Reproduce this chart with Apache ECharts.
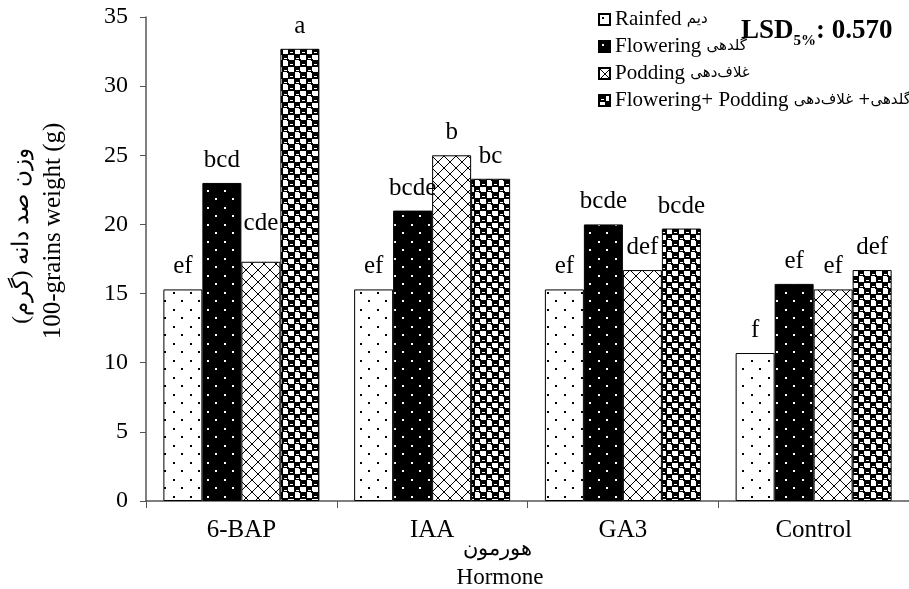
<!DOCTYPE html>
<html>
<head>
<meta charset="utf-8">
<script src="https://cdn.jsdelivr.net/npm/echarts@6/dist/echarts.min.js"></script>
<style>
html,body{margin:0;padding:0;background:#fff;}
#c{width:909px;height:589px;}
</style>
</head>
<body>
<div id="c"></div>
<script>
// ---- data ----
const categories = ['6-BAP', 'IAA', 'GA3', 'Control'];
const legendEn = ['Rainfed', 'Flowering', 'Podding', 'Flowering+ Podding'];
const legendFa = ['دیم', 'گلدهی', 'غلاف‌دهی', 'گلدهی+ غلاف‌دهی'];
const rainfed = [15.3, 15.3, 15.3, 10.7];
const flowering = [23.0, 21.0, 20.0, 15.7];
const podding = [17.3, 25.0, 16.7, 15.3];
const floweringPodding = [32.7, 23.3, 19.7, 16.7];
const rainfedLetters = ['ef', 'ef', 'ef', 'f'];
const floweringLetters = ['bcd', 'bcde', 'bcde', 'ef'];
const poddingLetters = ['cde', 'b', 'def', 'ef'];
const floweringPoddingLetters = ['a', 'bc', 'bcde', 'def'];
const yMin = 0, yMax = 35, yStep = 5;
const yAxisTitleFa = 'وزن صد دانه (گرم)\u200F';
const yAxisTitleEn = '100-grains weight (g)';
const xAxisTitleFa = 'هورمون';
const xAxisTitleEn = 'Hormone';
const lsdLabel = 'LSD', lsdSub = '5%', lsdValue = ': 0.570';

// ---- patterns ----
function tile(w, h, draw) {
  const c = document.createElement('canvas');
  c.width = w; c.height = h;
  const g = c.getContext('2d');
  draw(g, w, h);
  return c;
}
const patDots = tile(17, 17, (g, w, h) => {
  g.fillStyle = '#fff'; g.fillRect(0, 0, w, h);
  g.fillStyle = '#000'; g.fillRect(3, 3, 2, 2); g.fillRect(11, 11, 2, 2);
});
const patBlack = tile(17, 17, (g, w, h) => {
  g.fillStyle = '#000'; g.fillRect(0, 0, w, h);
  g.fillStyle = '#fff'; g.fillRect(3, 3, 2, 2); g.fillRect(11, 11, 2, 2);
});
const patCross = tile(12, 12, (g, w, h) => {
  g.fillStyle = '#fff'; g.fillRect(0, 0, w, h);
  g.fillStyle = '#000';
  for (let i = 0; i < 12; i++) { g.fillRect(i, i, 1, 1); g.fillRect(11 - i, i, 1, 1); }
});
const patCheck = tile(12, 12, (g, w, h) => {
  g.fillStyle = '#fff'; g.fillRect(0, 0, w, h);
  g.fillStyle = '#000';
  g.fillRect(0, 0, 7, 7); g.fillRect(6, 6, 6, 6); g.fillRect(0, 6, 1, 1);
  g.fillRect(11, 0, 1, 1); g.fillRect(0, 11, 1, 1);
  g.fillStyle = '#fff';
  g.fillRect(2, 4, 3, 1); g.fillRect(8, 10, 3, 1);
});
const patterns = [patDots, patBlack, patCross, patCheck];
const dataSets = [rainfed, flowering, podding, floweringPodding];
const letterSets = [rainfedLetters, floweringLetters, poddingLetters, floweringPoddingLetters];
const seriesNames = legendEn.map((e, i) => e + ' ' + legendFa[i]);
// extra upward shift (px) of a few hand-placed letter labels
const labelLift = { '2-0': 16 };

const serif = '"Liberation Serif", "Times New Roman", serif';

const series = seriesNames.map((name, i) => ({
  name: name,
  type: 'bar',
  data: dataSets[i].map((v, j) => {
    const lift = labelLift[i + '-' + j];
    return lift ? { value: v, label: { offset: [0, -lift] } } : v;
  }),
  barWidth: 39,
  barGap: '0%',
  itemStyle: { color: { image: patterns[i], repeat: 'repeat' }, borderColor: '#000', borderWidth: 1 },
  label: {
    show: true, position: 'top', distance: 10,
    fontFamily: serif, fontSize: 25, color: '#000',
    formatter: p => letterSets[i][p.dataIndex]
  },
  emphasis: { disabled: true }
}));

// measure LSD pieces for text layout
const mctx = document.createElement('canvas').getContext('2d');
mctx.font = 'bold 27px ' + serif;
const lsdW = mctx.measureText(lsdLabel).width;
mctx.font = 'bold 15px ' + serif;
const subW = mctx.measureText(lsdSub).width;
const lsdX = 741;

const chart = echarts.init(document.getElementById('c'), null, { renderer: 'canvas' });
chart.setOption({
  animation: false,
  backgroundColor: '#fff',
  grid: { left: 146, top: 17, width: 770, height: 484, containLabel: false },
  legend: {
    orient: 'vertical', left: 593, top: 4,
    itemWidth: 11, itemHeight: 11, itemGap: 6, itemTextGap: 3,
    icon: 'rect',
    data: seriesNames,
    formatter: name => {
      const i = seriesNames.indexOf(name);
      return '{en|' + legendEn[i] + '} {fa|' + legendFa[i] + '}';
    },
    textStyle: {
      fontFamily: serif, fontSize: 21, color: '#000',
      rich: {
        en: { fontFamily: serif, fontSize: 21, color: '#000' },
        fa: { fontFamily: '"DejaVu Sans", sans-serif', fontSize: 15, color: '#000' }
      }
    }
  },
  xAxis: {
    type: 'category', data: categories,
    axisLine: { lineStyle: { color: '#555', width: 1.5 } },
    axisTick: { show: true, length: 7, lineStyle: { color: '#555' } },
    axisLabel: { fontFamily: serif, fontSize: 25, color: '#000', margin: 17 }
  },
  yAxis: {
    type: 'value', min: yMin, max: yMax, interval: yStep,
    splitLine: { show: false },
    axisLine: { show: true, lineStyle: { color: '#555', width: 1.5 } },
    axisTick: { show: true, length: 6, lineStyle: { color: '#555' } },
    axisLabel: { fontFamily: serif, fontSize: 24, color: '#000', margin: 18 }
  },
  graphic: [
    { type: 'text', x: 22, y: 236, rotation: Math.PI / 2,
      style: { text: yAxisTitleFa, fontFamily: serif, fontSize: 23, fill: '#000', align: 'center', verticalAlign: 'middle' } },
    { type: 'text', x: 53, y: 231, rotation: Math.PI / 2,
      style: { text: yAxisTitleEn, fontFamily: serif, fontSize: 25, fill: '#000', align: 'center', verticalAlign: 'middle' } },
    { type: 'text', x: 497, y: 549,
      style: { text: xAxisTitleFa, fontFamily: serif, fontSize: 21, fill: '#000', align: 'center', verticalAlign: 'middle' } },
    { type: 'text', x: 500, y: 578,
      style: { text: xAxisTitleEn, fontFamily: serif, fontSize: 23, fill: '#000', align: 'center', verticalAlign: 'middle' } },
    { type: 'text', x: lsdX, y: 31,
      style: { text: lsdLabel, fontFamily: serif, fontSize: 27, fontWeight: 'bold', fill: '#000', align: 'left', verticalAlign: 'middle' } },
    { type: 'text', x: lsdX + lsdW, y: 41,
      style: { text: lsdSub, fontFamily: serif, fontSize: 15, fontWeight: 'bold', fill: '#000', align: 'left', verticalAlign: 'middle' } },
    { type: 'text', x: lsdX + lsdW + subW, y: 31,
      style: { text: lsdValue, fontFamily: serif, fontSize: 27, fontWeight: 'bold', fill: '#000', align: 'left', verticalAlign: 'middle' } }
  ],
  series: series
});
</script>
</body>
</html>
